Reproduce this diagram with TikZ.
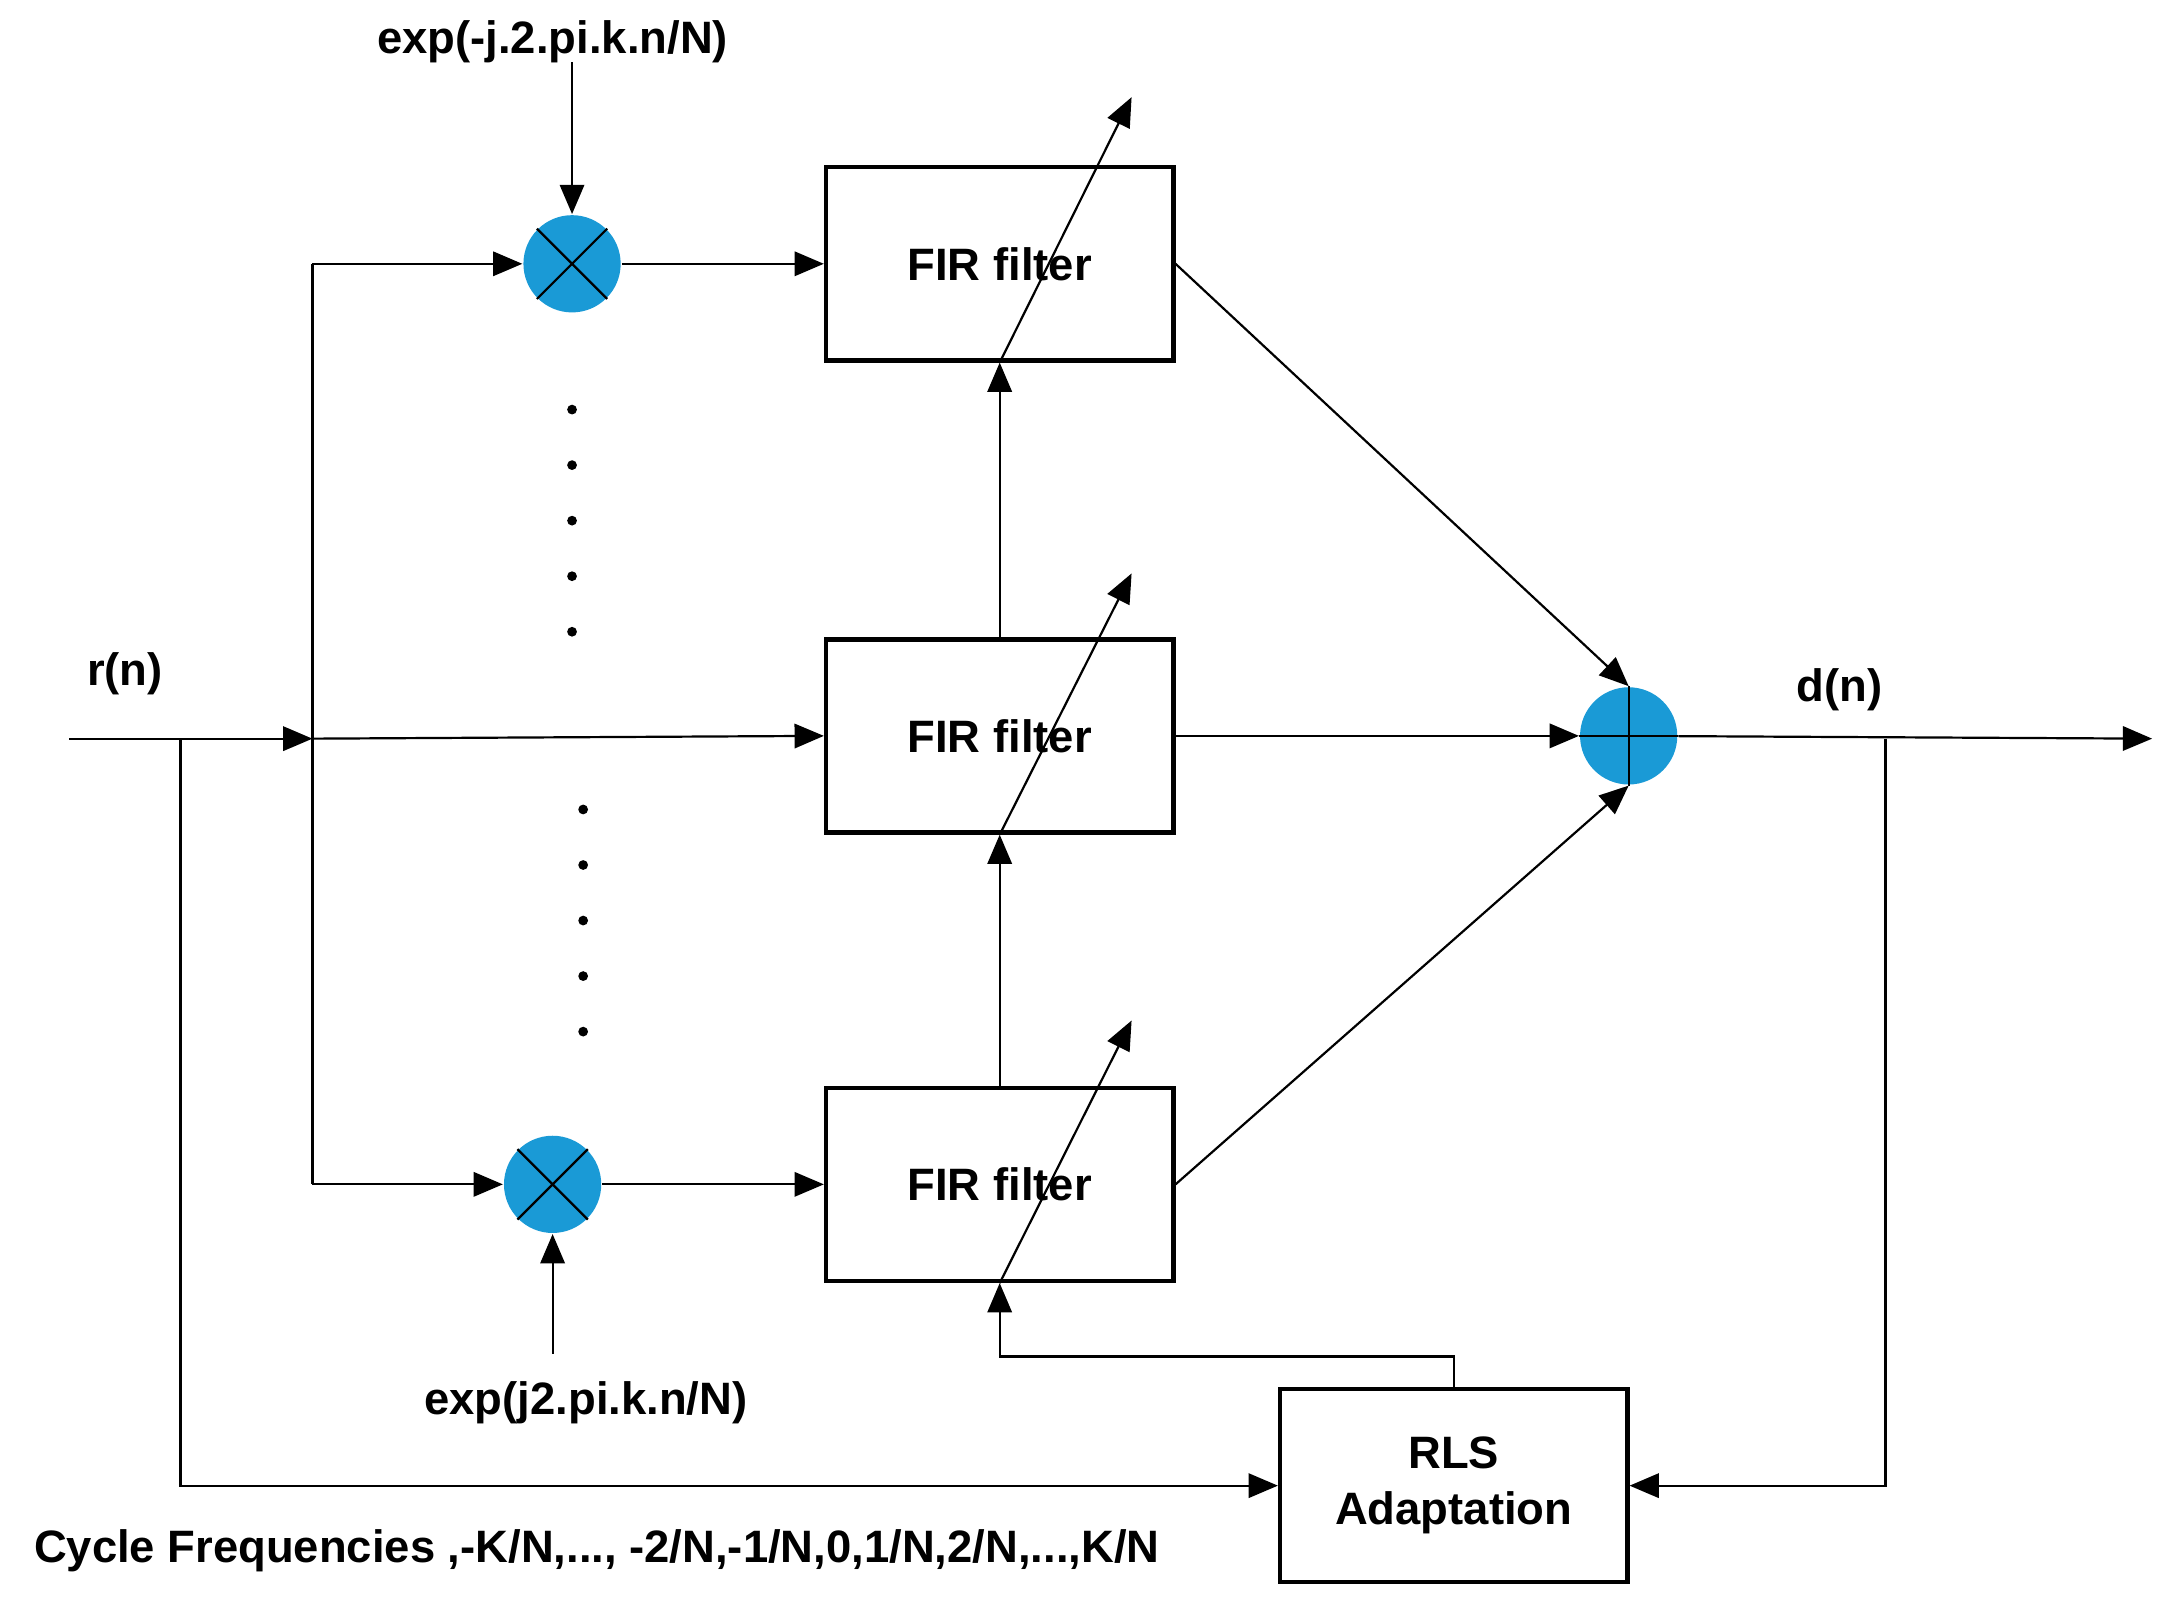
\documentclass[tikz,border=0pt]{standalone}
\usepackage{fontspec}
\setmainfont{Liberation Sans}
\usetikzlibrary{arrows.meta}
\begin{document}
\begin{tikzpicture}[x=0.01cm,y=-0.01cm,
  font=\fontsize{9.3}{11.5}\selectfont\bfseries,
  >={Triangle[length=6pt,width=5pt]},
  every path/.style={line width=0.45pt},
  box/.style={draw,line width=0.9pt,minimum width=2.5cm,minimum height=1.39cm,inner sep=0pt,align=center},
  circ/.style={circle,minimum size=0.7cm,inner sep=0pt},
  dot/.style={circle,fill=black,inner sep=0pt,minimum size=2pt}]
\useasboundingbox (0,0) rectangle (1560,1152);
\definecolor{cb}{HTML}{1A9AD6}
\node[circ,fill=cb] (m1) at (412,190) {};
\draw (m1.45)--(m1.225) (m1.135)--(m1.315);
\node[circ,fill=cb] (m2) at (398,853) {};
\draw (m2.45)--(m2.225) (m2.135)--(m2.315);
\node[circ,fill=cb] (s) at (1173,530) {};
\draw (s.north)--(s.south) (s.west)--(s.east);
\node[box] (f1) at (720,190) {FIR filter};
\node[box] (f2) at (720,530) {FIR filter};
\node[box] (f3) at (720,853) {FIR filter};
\node[box] (rls) at (1047,1070) {RLS\\Adaptation};
\node (rn) at (90,485) {r(n)};
\node (dn) at (1325,497) {d(n)};
\node (e1) at (398,30) {exp(-j.2.pi.k.n/N)};
\node (e2) at (422,1010) {exp(j2.pi.k.n/N)};
\node[anchor=west] (cap) at (12,1117) {Cycle Frequencies ,-K/N,..., -2/N,-1/N,0,1/N,2/N,...,K/N};
\coordinate (in) at (50,532);
\coordinate (br) at (225,532);
\coordinate (tap) at (130,532);
\coordinate (out) at (1550,532);
\coordinate (fb) at (1358,532);
\draw[->] (in)--(br);
\draw[->] (br)--(f2.west);
\draw (br)--(225,190);
\draw (br)--(225,853);
\draw[->] (225,190)--(m1.west);
\draw[->] (225,853)--(m2.west);
\draw[->] (m1)--(f1);
\draw[->] (m2)--(f3);
\draw[->] (412,45)--(m1.north);
\draw[->] (398,975)--(m2.south);
\draw[->] (f1.east)--(s.north);
\draw[->] (f2)--(s);
\draw[->] (f3.east)--(s.south);
\draw[->] (s)--(out);
\draw[->] (fb)|-(rls.east);
\draw[->] (tap)|-(rls.west);
\draw[->] (rls.north)|-(720,977)--(f3.south);
\draw[->] (f3.north)--(f2.south);
\draw[->] (f2.north)--(f1.south);
\draw[->] (f1.south)--(815,70);
\draw[->] (f2.south)--(815,413);
\draw[->] (f3.south)--(815,735);
\foreach \y in {295,335,375,415,455} \node[dot] at (412,\y) {};
\foreach \y in {583,623,663,703,743} \node[dot] at (420,\y) {};
\end{tikzpicture}
\end{document}
